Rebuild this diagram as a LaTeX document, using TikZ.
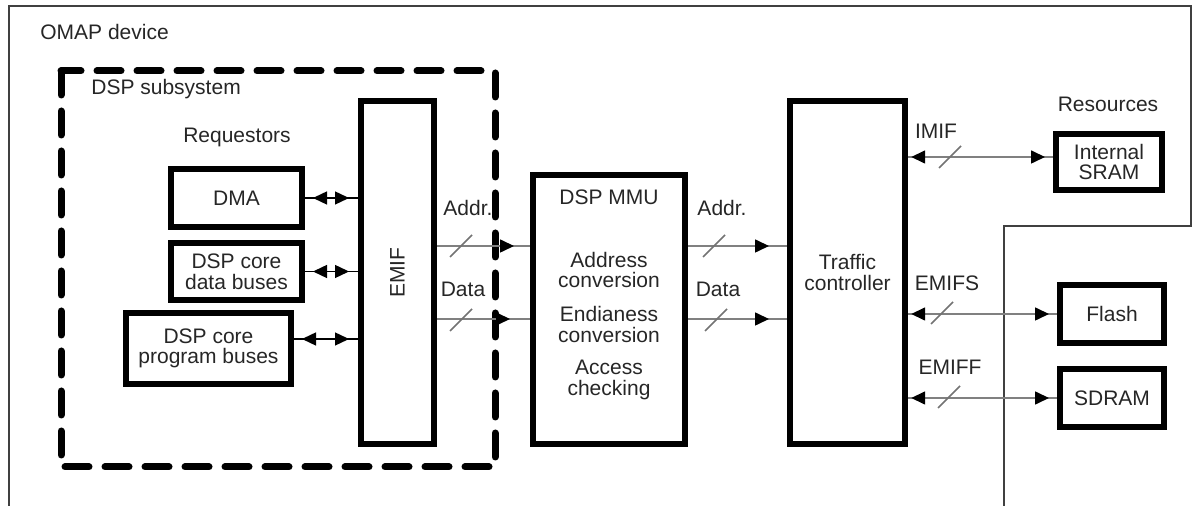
\documentclass[tikz,border=0pt]{standalone}
\usepackage{fontspec}
\usepackage{graphicx}
\setmainfont{Liberation Sans}
\usetikzlibrary{arrows.meta,decorations.markings}
\begin{document}
\begin{tikzpicture}[x=0.5pt,y=-0.5pt,
  font=\fontsize{10.5}{10.3}\selectfont,
  >={Triangle[length=7pt,width=6.5pt]},
  box/.style={draw=black, line width=3.2pt, inner sep=0pt, align=center, text=black!85},
  lbl/.style={inner sep=0pt, text=black!85, anchor=base},
  sig/.style={draw=black!50, line width=0.8pt},
  req/.style={draw=black, line width=0.7pt},
  slashmk/.style={draw=black!55, line width=0.8pt},
  tipat/.style={postaction={decorate,decoration={markings,mark=at position #1 with {\arrow[black]{>}}}}},
  rtipat/.style={postaction={decorate,decoration={markings,mark=at position #1 with {\arrowreversed[black]{>}}}}},
  frame/.style={draw=black!75, line width=1pt},
  dashfr/.style={draw=black, line width=3.5pt, dash pattern=on 12pt off 8pt, line cap=round}
]
\useasboundingbox (0,0) rectangle (1192,506);

% outer frame
\coordinate (f1) at (9,506);
\coordinate (f2) at (9,6);
\coordinate (f3) at (1190.5,6);
\coordinate (f4) at (1190.5,226);
\coordinate (f5) at (1004,226);
\coordinate (f6) at (1004,506);
\draw[frame] (f1) -- (f2) -- (f3) -- (f4) -- (f5) -- (f6);
\node[lbl, anchor=base west] (omap) at (40,40) {OMAP device};

% DSP subsystem dashed frame
\coordinate (d1) at (61,71);
\coordinate (d2) at (495,467);
\draw[dashfr] (d1) rectangle (d2);
\node[lbl, anchor=base west] (dspsub) at (91,95) {DSP subsystem};
\node[lbl] (reqlbl) at (237,143) {Requestors};

% requestor boxes
\node[box, minimum width=65.3pt, minimum height=28.8pt] (dma) at (236.5,198) {DMA};
\node[box, minimum width=65.3pt, minimum height=28.3pt] (data) at (236.5,271.5) {DSP core\\data buses};
\node[box, minimum width=82.3pt, minimum height=35.3pt] (prog) at (208.5,348.5) {DSP core\\program buses};

% EMIF
\node[box, minimum width=36.3pt, minimum height=171.3pt] (emif) at (397.5,272.5) {\rotatebox{90}{EMIF}};

% DSP MMU
\node[box, minimum width=75.8pt, minimum height=134.3pt] (mmu) at (609,309.5) {};
\node[lbl] (m1) at (609,205) {DSP MMU};
\node[lbl] (m2) at (609,268) {Address};
\node[lbl] (m3) at (609,288) {conversion};
\node[lbl] (m4) at (609,322) {Endianess};
\node[lbl] (m5) at (609,343) {conversion};
\node[lbl] (m6) at (609,375) {Access};
\node[lbl] (m7) at (609,396) {checking};

% Traffic controller
\node[box, minimum width=57.3pt, minimum height=171.3pt] (tc) at (847.5,272.5) {Traffic\\controller};

% Resources
\node[lbl] (reslbl) at (1108,112) {Resources};
\node[box, minimum width=52.8pt, minimum height=27.8pt] (sram) at (1109,162) {Internal\\SRAM};
\node[box, minimum width=51.8pt, minimum height=28.8pt] (flash) at (1112,314) {Flash};
\node[box, minimum width=51.8pt, minimum height=28.8pt] (sdram) at (1112,398) {SDRAM};

% requestor connectors
\coordinate (py) at (0,339);
\draw[req, rtipat=4pt, tipat=-4.5pt] (dma.east) -- (dma.east -| emif.west);
\draw[req, rtipat=4pt, tipat=-4.5pt] (data.east) -- (data.east -| emif.west);
\draw[req, rtipat=4pt, tipat=-4.5pt] (prog.east |- py) -- (emif.west |- py);

% Addr / Data buses
\coordinate (ay) at (0,246);
\coordinate (dy) at (0,319);
\draw[sig, tipat=-8pt] (emif.east |- ay) -- (mmu.west |- ay);
\draw[sig, tipat=-10pt] (emif.east |- dy) -- (mmu.west |- dy);
\draw[sig, tipat=-9pt] (mmu.east |- ay) -- (tc.west |- ay);
\draw[sig, tipat=-9pt] (mmu.east |- dy) -- (tc.west |- dy);
\node[lbl] (al) at (468,216) {Addr.};
\node[lbl] (dl) at (463,297) {Data};
\node[lbl] (ar) at (722,216) {Addr.};
\node[lbl] (dr) at (718,297) {Data};
\draw[slashmk] (461,246) +(-11,11) -- +(11,-11);
\draw[slashmk] (461,320) +(-11,11) -- +(11,-11);
\draw[slashmk] (714,246) +(-11,11) -- +(11,-11);
\draw[slashmk] (716,320) +(-11,11) -- +(11,-11);

% TC to resources
\coordinate (iy) at (0,157);
\draw[sig, rtipat=1.6pt, tipat=-4pt] (tc.east |- iy) -- (sram.west |- iy);
\draw[sig, rtipat=1.6pt, tipat=-4pt] (tc.east |- flash.west) -- (flash.west);
\draw[sig, rtipat=1.6pt, tipat=-4pt] (tc.east |- sdram.west) -- (sdram.west);
\node[lbl] (imif) at (936,139) {IMIF};
\node[lbl] (emifs) at (947,291) {EMIFS};
\node[lbl] (emiff) at (950,375) {EMIFF};
\draw[slashmk] (950,157) +(-11,11) -- +(11,-11);
\draw[slashmk] (942,313) +(-11,11) -- +(11,-11);
\draw[slashmk] (949,397) +(-11,11) -- +(11,-11);
\end{tikzpicture}
\end{document}
